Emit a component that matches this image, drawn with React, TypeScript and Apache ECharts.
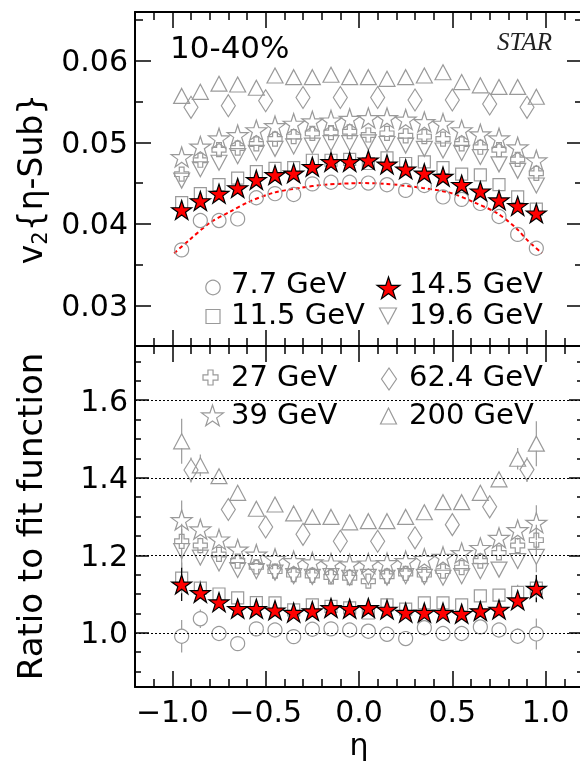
import React, { useEffect, useRef } from 'react';
import * as echarts from 'echarts';

// ---------- data ----------
const eta = [-0.95, -0.85, -0.75, -0.65, -0.55, -0.45, -0.35, -0.25, -0.15, -0.05, 0.05, 0.15, 0.25, 0.35, 0.45, 0.55, 0.65, 0.75, 0.85, 0.95];
const etaDiamond = [-0.9, -0.7, -0.5, -0.3, -0.1, 0.1, 0.3, 0.5, 0.7, 0.9];

// top panel: v2{eta-Sub}
const v2_7p7 = [0.0368, 0.0404, 0.0404, 0.0406, 0.0432, 0.0437, 0.0436, 0.0449, 0.0451, 0.0451, 0.045, 0.0448, 0.0441, 0.0447, 0.0433, 0.043, 0.0425, 0.0409, 0.0387, 0.037];
const v2_11p5 = [0.0426, 0.0437, 0.0448, 0.0456, 0.0464, 0.0468, 0.0469, 0.0478, 0.0478, 0.0479, 0.0474, 0.0481, 0.0474, 0.0476, 0.0469, 0.0461, 0.046, 0.0448, 0.0433, 0.0418];
const v2_14p5 = [0.0417, 0.0428, 0.0437, 0.0444, 0.0454, 0.046, 0.0462, 0.047, 0.0476, 0.0476, 0.0478, 0.0473, 0.0467, 0.0462, 0.0458, 0.0448, 0.044, 0.0429, 0.0422, 0.0413];
const v2_19p6 = [0.0453, 0.0467, 0.0475, 0.0483, 0.0487, 0.0492, 0.0495, 0.0496, 0.0499, 0.0499, 0.05, 0.0498, 0.0496, 0.0492, 0.049, 0.0487, 0.0482, 0.0473, 0.0465, 0.0447];
const v2_27 = [0.0461, 0.0478, 0.0491, 0.0493, 0.0498, 0.0504, 0.0507, 0.0511, 0.0512, 0.0513, 0.0509, 0.0511, 0.0508, 0.0507, 0.0504, 0.0498, 0.0494, 0.0491, 0.0479, 0.0462];
const v2_39 = [0.0482, 0.0495, 0.0505, 0.0509, 0.0515, 0.052, 0.0523, 0.0526, 0.0527, 0.0529, 0.053, 0.053, 0.0528, 0.0525, 0.0523, 0.0515, 0.051, 0.0505, 0.0494, 0.0478];
const v2_62p4 = [0.0543, 0.0545, 0.0551, 0.0555, 0.0555, 0.0555, 0.0552, 0.0552, 0.0547, 0.0543];
const v2_200 = [0.0557, 0.0562, 0.0572, 0.0571, 0.0567, 0.0582, 0.058, 0.058, 0.0583, 0.058, 0.058, 0.0578, 0.058, 0.0582, 0.0586, 0.0574, 0.057, 0.0568, 0.0568, 0.0556];

// fit function drawn through 7.7 GeV (red dotted curve)
const fitEta = [-0.99, -0.91, -0.8, -0.69, -0.59, -0.46, -0.32, -0.18, 0.02, 0.15, 0.34, 0.49, 0.63, 0.74, 0.84, 0.91, 0.98];
const fitV2 = [0.0364, 0.038, 0.0401, 0.0415, 0.0427, 0.0438, 0.0444, 0.0448, 0.045, 0.0449, 0.0444, 0.0438, 0.0425, 0.0413, 0.0395, 0.0378, 0.0364];

// bottom panel: ratio to fit function
const ratio_7p7 = [0.991, 1.036, 0.998, 0.972, 1.01, 1.007, 0.99, 1.009, 1.01, 1.007, 1.004, 0.996, 0.985, 1.013, 0.998, 0.998, 1.015, 1.007, 0.991, 0.997];
const ratio_11p5 = [1.141, 1.115, 1.1, 1.09, 1.078, 1.077, 1.059, 1.072, 1.068, 1.064, 1.051, 1.072, 1.061, 1.077, 1.077, 1.072, 1.095, 1.097, 1.104, 1.115];
const ratio_14p5 = [1.125, 1.103, 1.079, 1.062, 1.062, 1.058, 1.052, 1.056, 1.064, 1.062, 1.064, 1.06, 1.052, 1.052, 1.052, 1.049, 1.056, 1.06, 1.084, 1.114];
const ratio_19p6 = [1.211, 1.194, 1.179, 1.162, 1.159, 1.155, 1.146, 1.144, 1.146, 1.142, 1.144, 1.142, 1.146, 1.144, 1.142, 1.146, 1.159, 1.163, 1.185, 1.196];
const ratio_27 = [1.236, 1.225, 1.202, 1.185, 1.17, 1.159, 1.15, 1.148, 1.144, 1.142, 1.133, 1.146, 1.153, 1.15, 1.159, 1.168, 1.185, 1.206, 1.225, 1.239];
const ratio_39 = [1.291, 1.267, 1.241, 1.215, 1.202, 1.191, 1.185, 1.182, 1.179, 1.177, 1.179, 1.18, 1.185, 1.191, 1.196, 1.206, 1.219, 1.245, 1.265, 1.284];
const ratio_62p4 = [1.42, 1.318, 1.273, 1.254, 1.236, 1.236, 1.245, 1.279, 1.325, 1.421];
const ratio_200 = [1.494, 1.432, 1.404, 1.361, 1.32, 1.331, 1.308, 1.299, 1.299, 1.285, 1.288, 1.288, 1.299, 1.311, 1.337, 1.337, 1.361, 1.396, 1.449, 1.488];

// statistical errors on the ratios
const err_7p7 = [0.042, 0.024, 0.012, 0.01, 0.01, 0.01, 0.01, 0.01, 0.01, 0.01, 0.01, 0.01, 0.01, 0.01, 0.01, 0.01, 0.012, 0.015, 0.02, 0.04];
const err_11p5 = [0.04, 0.02, 0.012, 0.01, 0.01, 0.01, 0.01, 0.01, 0.01, 0.01, 0.01, 0.01, 0.01, 0.01, 0.01, 0.01, 0.01, 0.012, 0.02, 0.035];
const err_14p5 = [0.043, 0.022, 0.012, 0.01, 0.01, 0.01, 0.01, 0.01, 0.01, 0.01, 0.01, 0.01, 0.01, 0.01, 0.01, 0.01, 0.01, 0.012, 0.02, 0.035];
const err_19p6 = [0.045, 0.02, 0.012, 0.01, 0.01, 0.01, 0.01, 0.01, 0.01, 0.01, 0.01, 0.01, 0.01, 0.01, 0.01, 0.01, 0.01, 0.012, 0.02, 0.04];
const err_27 = [0.045, 0.02, 0.012, 0.01, 0.01, 0.01, 0.01, 0.01, 0.01, 0.01, 0.01, 0.01, 0.01, 0.01, 0.01, 0.01, 0.01, 0.012, 0.02, 0.04];
const err_39 = [0.05, 0.025, 0.012, 0.01, 0.01, 0.01, 0.01, 0.01, 0.01, 0.01, 0.01, 0.01, 0.01, 0.01, 0.01, 0.01, 0.01, 0.012, 0.025, 0.045];
const err_62p4 = [0.032, 0.012, 0.01, 0.01, 0.01, 0.01, 0.01, 0.01, 0.012, 0.032];
const err_200 = [0.058, 0.028, 0.015, 0.012, 0.012, 0.012, 0.012, 0.012, 0.012, 0.012, 0.012, 0.012, 0.012, 0.012, 0.012, 0.012, 0.012, 0.015, 0.028, 0.058];

// axis ticks
const xMajorTicks = [-1, -0.5, 0, 0.5, 1];
const xMinorTicks = [-1.1, -0.9, -0.8, -0.7, -0.6, -0.4, -0.3, -0.2, -0.1, 0.1, 0.2, 0.3, 0.4, 0.6, 0.7, 0.8, 0.9, 1.1];
const yTopMajorTicks = [0.03, 0.04, 0.05, 0.06];
const yTopMinorTicks = [0.025, 0.035, 0.045, 0.055, 0.065];
const yBotMajorTicks = [1.0, 1.2, 1.4, 1.6];
const yBotMinorTicks = [0.9, 0.95, 1.05, 1.1, 1.15, 1.25, 1.3, 1.35, 1.45, 1.5, 1.55, 1.65, 1.7];
const refLines = [1.0, 1.2, 1.4, 1.6];

const legendTop = ['7.7 GeV', '11.5 GeV', '14.5 GeV', '19.6 GeV'];
const legendBottom = ['27 GeV', '39 GeV', '62.4 GeV', '200 GeV'];

// ---------- styles ----------
const GREY = '#9a9a9a';
const FONT = 'DejaVu Sans';
const STAR = 'path://M50,0 L61.2,34.55 L97.55,34.55 L68.2,55.9 L79.4,90.45 L50,69.1 L20.6,90.45 L31.8,55.9 L2.45,34.55 L38.8,34.55 Z';
const CROSS = 'path://M33,0 L67,0 L67,33 L100,33 L100,67 L67,67 L67,100 L33,100 L33,67 L0,67 L0,33 L33,33 Z';
const DOWNTRI = 'path://M0,0 L100,0 L50,86.6 Z';

type Spec = { name: string; xs: number[]; top: number[]; ratio: number[]; err: number[]; symbol: string; size: any; half: number; fill: string; stroke: string; ebar: string; z: number };

const specs: Spec[] = [
  { name: '200 GeV', xs: eta, top: v2_200, ratio: ratio_200, err: err_200, symbol: 'triangle', size: [16, 15], half: 7, fill: 'rgba(0,0,0,0)', stroke: GREY, ebar: GREY, z: 2 },
  { name: '62.4 GeV', xs: etaDiamond, top: v2_62p4, ratio: ratio_62p4, err: err_62p4, symbol: 'diamond', size: [14, 22], half: 11, fill: 'rgba(0,0,0,0)', stroke: GREY, ebar: GREY, z: 2 },
  { name: '39 GeV', xs: eta, top: v2_39, ratio: ratio_39, err: err_39, symbol: STAR, size: [21, 20], half: 9, fill: 'rgba(0,0,0,0)', stroke: GREY, ebar: GREY, z: 2 },
  { name: '27 GeV', xs: eta, top: v2_27, ratio: ratio_27, err: err_27, symbol: CROSS, size: [14, 14], half: 7, fill: 'rgba(0,0,0,0)', stroke: GREY, ebar: GREY, z: 2 },
  { name: '19.6 GeV', xs: eta, top: v2_19p6, ratio: ratio_19p6, err: err_19p6, symbol: DOWNTRI, size: [16, 15], half: 7, fill: 'rgba(0,0,0,0)', stroke: GREY, ebar: GREY, z: 2 },
  { name: '11.5 GeV', xs: eta, top: v2_11p5, ratio: ratio_11p5, err: err_11p5, symbol: 'rect', size: [12, 12], half: 6, fill: 'rgba(0,0,0,0)', stroke: GREY, ebar: GREY, z: 2 },
  { name: '7.7 GeV', xs: eta, top: v2_7p7, ratio: ratio_7p7, err: err_7p7, symbol: 'circle', size: 14, half: 7, fill: 'rgba(0,0,0,0)', stroke: GREY, ebar: GREY, z: 2 },
  { name: '14.5 GeV', xs: eta, top: v2_14p5, ratio: ratio_14p5, err: err_14p5, symbol: STAR, size: [20, 19], half: 9, fill: '#ff0000', stroke: '#000', ebar: '#000', z: 4 },
];

// ---------- layout ----------
const GRID_LEFT = 135;
const GRID_W = 448;
const TOP_T = 12, TOP_H = 334;
const BOT_T = 346, BOT_H = 341;

const tickStyle = { color: '#000', width: 1.5 };
const lineStyle = { color: '#000', width: 2 };

function makeXAxes(gridIndex: number, withLabels: boolean) {
  const base = { type: 'value', gridIndex, min: -1.2, max: 1.2, splitLine: { show: false } };
  const label = withLabels
    ? {
        show: true, customValues: xMajorTicks, margin: 9, lineHeight: 30, color: '#000', fontFamily: FONT, fontSize: 30,
        formatter: (v: number) => (Math.abs(v) < 1e-9 ? '0.0' : (v < 0 ? '\u2212' : '') + Math.abs(v).toFixed(1)),
      }
    : { show: false };
  const major = (position: string, extra: any = {}) => ({
    ...base, position,
    axisLine: { show: true, onZero: false, lineStyle },
    axisTick: { show: true, inside: true, length: 16, customValues: xMajorTicks, lineStyle: tickStyle },
    axisLabel: position === 'bottom' ? label : { show: false },
    ...extra,
  });
  const minor = (position: string) => ({
    ...base, position,
    axisLine: { show: false, onZero: false },
    axisTick: { show: true, inside: true, length: 8, customValues: xMinorTicks, lineStyle: tickStyle },
    axisLabel: { show: false },
  });
  const nameOpt = withLabels
    ? { name: '\u03b7', nameLocation: 'middle', nameGap: 41, nameTextStyle: { fontFamily: FONT, fontSize: 30, lineHeight: 32, color: '#000' } }
    : {};
  return [major('bottom', nameOpt), minor('bottom'), major('top'), minor('top')];
}

function makeYAxes(gridIndex: number, min: number, max: number, majors: number[], minors: number[], fmt: (v: number) => string, nameOpt: any, majLen: number, minLen: number) {
  const base = { type: 'value', gridIndex, min, max, splitLine: { show: false } };
  return [
    {
      ...base, position: 'left',
      axisLine: { show: true, onZero: false, lineStyle },
      axisTick: { show: true, inside: true, length: majLen, customValues: majors, lineStyle: tickStyle },
      axisLabel: { show: true, customValues: majors, margin: 7, color: '#000', fontFamily: FONT, fontSize: 30, formatter: fmt },
      ...nameOpt,
    },
    {
      ...base, position: 'left',
      axisLine: { show: false, onZero: false },
      axisTick: { show: true, inside: true, length: minLen, customValues: minors, lineStyle: tickStyle },
      axisLabel: { show: false },
    },
    {
      ...base, position: 'right',
      axisLine: { show: true, onZero: false, lineStyle },
      axisTick: { show: true, inside: true, length: majLen, customValues: majors, lineStyle: tickStyle },
      axisLabel: { show: false },
    },
    {
      ...base, position: 'right',
      axisLine: { show: false, onZero: false },
      axisTick: { show: true, inside: true, length: minLen, customValues: minors, lineStyle: tickStyle },
      axisLabel: { show: false },
    },
  ];
}

function errorBarSeries(s: Spec) {
  return {
    type: 'custom',
    xAxisIndex: 4,
    yAxisIndex: 4,
    silent: true,
    z: s.z - 1,
    data: s.xs.map((x, i) => [x, s.ratio[i], s.err[i]]),
    renderItem: (_p: any, api: any) => {
      const x = api.value(0), y = api.value(1), e = api.value(2);
      const c = api.coord([x, y]);
      const hi = api.coord([x, y + e]);
      const lo = api.coord([x, y - e]);
      const children: any[] = [];
      if (c[1] - s.half > hi[1]) children.push({ type: 'line', shape: { x1: c[0], y1: hi[1], x2: c[0], y2: c[1] - s.half }, style: { stroke: s.ebar, lineWidth: 1.2 } });
      if (lo[1] > c[1] + s.half) children.push({ type: 'line', shape: { x1: c[0], y1: c[1] + s.half, x2: c[0], y2: lo[1] }, style: { stroke: s.ebar, lineWidth: 1.2 } });
      return { type: 'group', children };
    },
  };
}

function starPoints(cx: number, cy: number, R: number) {
  const pts: number[][] = [];
  for (let k = 0; k < 10; k++) {
    const r = k % 2 === 0 ? R : R * 0.382;
    const a = -Math.PI / 2 + (k * Math.PI) / 5;
    pts.push([cx + r * Math.cos(a), cy + r * Math.sin(a)]);
  }
  return pts;
}
function crossPoints(cx: number, cy: number, s: number) {
  const h = s / 2, a = s * 0.17;
  return [[cx - a, cy - h], [cx + a, cy - h], [cx + a, cy - a], [cx + h, cy - a], [cx + h, cy + a], [cx + a, cy + a], [cx + a, cy + h], [cx - a, cy + h], [cx - a, cy + a], [cx - h, cy + a], [cx - h, cy - a], [cx - a, cy - a]];
}

const openStyle = { fill: 'none', stroke: GREY, lineWidth: 1.2 };
const legendText = (x: number, y: number, text: string) => ({
  type: 'text', x, y, silent: true,
  style: { text, fill: '#000', font: `29px "${FONT}"`, textAlign: 'left', textVerticalAlign: 'middle' },
});

export default function App() {
  const ref = useRef<HTMLDivElement>(null);
  useEffect(() => {
    if (!ref.current) return;
    const chart = echarts.init(ref.current, null, { renderer: 'svg' });

    const series: any[] = [];
    // fit function
    series.push({
      type: 'line', xAxisIndex: 0, yAxisIndex: 0, silent: true, z: 1,
      data: fitEta.map((x, i) => [x, fitV2[i]]),
      smooth: 0.3, showSymbol: false, symbol: 'none',
      lineStyle: { color: '#ff0000', width: 2, type: [4, 3] },
    });
    // reference dotted lines in ratio panel
    series.push({
      type: 'line', xAxisIndex: 4, yAxisIndex: 4, silent: true, data: [], z: 1,
      markLine: {
        silent: true, symbol: 'none', label: { show: false },
        lineStyle: { color: '#000', width: 1, type: [2, 2] },
        data: refLines.map((v) => ({ yAxis: v })),
      },
    });
    specs.forEach((s) => {
      series.push({
        type: 'scatter', name: s.name, xAxisIndex: 0, yAxisIndex: 0, silent: true, z: s.z,
        data: s.xs.map((x, i) => [x, s.top[i]]),
        symbol: s.symbol, symbolSize: s.size,
        itemStyle: { color: s.fill, borderColor: s.stroke, borderWidth: 1.2, opacity: 1 },
      });
      series.push(errorBarSeries(s));
      series.push({
        type: 'scatter', name: s.name, xAxisIndex: 4, yAxisIndex: 4, silent: true, z: s.z,
        data: s.xs.map((x, i) => [x, s.ratio[i]]),
        symbol: s.symbol, symbolSize: s.size,
        itemStyle: { color: s.fill, borderColor: s.stroke, borderWidth: 1.2, opacity: 1 },
      });
    });

    const graphic: any[] = [
      { type: 'text', x: 170, y: 47, silent: true, style: { text: '10-40%', fill: '#000', font: `31px "${FONT}"`, textAlign: 'left', textVerticalAlign: 'middle' } },
      { type: 'text', x: 552, y: 41, silent: true, style: { text: 'STAR', fill: '#222', font: `italic 25px "Liberation Serif"`, textAlign: 'right', textVerticalAlign: 'middle' } },
      // top legend
      { type: 'circle', silent: true, shape: { cx: 213, cy: 287.5, r: 7.2 }, style: openStyle },
      legendText(231, 283, legendTop[0]),
      { type: 'rect', silent: true, shape: { x: 206, y: 309.5, width: 14, height: 14 }, style: openStyle },
      legendText(231, 314, legendTop[1]),
      { type: 'polygon', silent: true, shape: { points: starPoints(388.5, 289, 12) }, style: { fill: '#ff0000', stroke: '#000', lineWidth: 1.2 } },
      legendText(409, 283, legendTop[2]),
      { type: 'polygon', silent: true, shape: { points: [[379.5, 308], [396.5, 308], [388, 324]] }, style: openStyle },
      legendText(409, 314, legendTop[3]),
      // bottom legend
      { type: 'polygon', silent: true, shape: { points: crossPoints(210.5, 377.5, 15) }, style: openStyle },
      legendText(231, 376, legendBottom[0]),
      { type: 'polygon', silent: true, shape: { points: starPoints(212.5, 416.5, 11.5) }, style: openStyle },
      legendText(231, 414, legendBottom[1]),
      { type: 'polygon', silent: true, shape: { points: [[389, 368], [396.5, 379], [389, 390], [381.5, 379]] }, style: openStyle },
      legendText(409, 376, legendBottom[2]),
      { type: 'polygon', silent: true, shape: { points: [[388.5, 408], [396.5, 424], [380.5, 424]] }, style: openStyle },
      legendText(409, 414, legendBottom[3]),
    ];

    chart.setOption({
      animation: false,
      textStyle: { fontFamily: FONT },
      grid: [
        { left: GRID_LEFT, top: TOP_T, width: GRID_W, height: TOP_H, containLabel: false, outerBoundsMode: 'none' },
        { left: GRID_LEFT, top: BOT_T, width: GRID_W, height: BOT_H, containLabel: false, outerBoundsMode: 'none' },
      ],
      xAxis: [...makeXAxes(0, false), ...makeXAxes(1, true)],
      yAxis: [
        ...makeYAxes(0, 0.025, 0.066, yTopMajorTicks, yTopMinorTicks, (v) => v.toFixed(2), {
          name: 'v{s|2}{\u03b7-Sub}', nameLocation: 'middle', nameRotate: 90, nameGap: 84,
          nameTextStyle: { fontFamily: FONT, fontSize: 33, color: '#000', rich: { s: { fontFamily: FONT, fontSize: 21, color: '#000', verticalAlign: 'top', padding: [19, 0, 0, 0] } } },
        }, 16, 8),
        ...makeYAxes(1, 0.86, 1.74, yBotMajorTicks, yBotMinorTicks, (v) => v.toFixed(1), {
          name: 'Ratio to fit function', nameLocation: 'middle', nameRotate: 90, nameGap: 88,
          nameTextStyle: { fontFamily: FONT, fontSize: 34, color: '#000' },
        }, 14, 6),
      ],
      series,
      graphic,
    });
    return () => chart.dispose();
  }, []);
  return <div ref={ref} style={{ position: 'fixed', left: 0, top: 0, width: 580, height: 762 }} />;
}
